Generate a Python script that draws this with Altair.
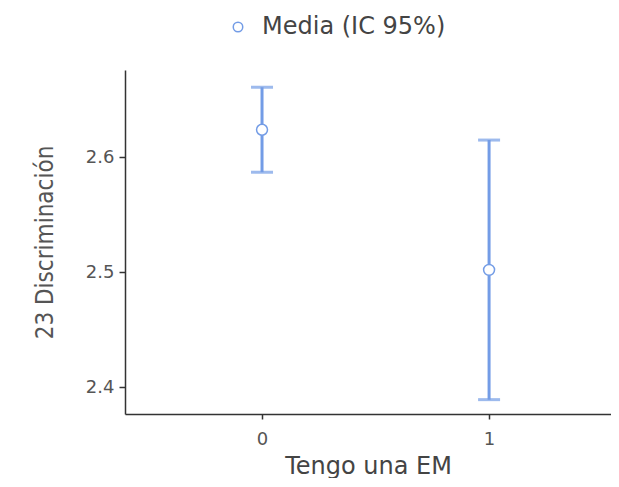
import altair as alt
import pandas as pd

groups = [0, 1]
means = [2.624, 2.502]
lowers = [2.587, 2.389]
uppers = [2.661, 2.615]
series = ["Media (IC 95%)", "Media (IC 95%)"]

df = pd.DataFrame({"g": groups, "m": means, "lo": lowers, "hi": uppers, "s": series})

blue = "#739ce6"
font = "DejaVu Sans"
narrow = "'DejaVu Sans Condensed', 'DejaVu Sans', sans-serif"

x = alt.X("g:Q", title="Tengo una EM",
          scale=alt.Scale(domain=[-0.6035, 1.537], nice=False, zero=False),
          axis=alt.Axis(values=[0, 1], format="d", grid=False, domainColor="#333",
                        domainWidth=1.5, tickColor="#333", tickWidth=1.5, tickSize=5,
                        labelFontSize=18, labelColor="#555", labelFont=font,
                        labelPadding=11, titleFontSize=24, titleColor="#444",
                        titleFont=font, titleFontWeight="normal", titlePadding=6))
ysc = alt.Scale(domain=[2.3765, 2.676], nice=False, zero=False)

rules = alt.Chart(df).mark_rule(color=blue, strokeWidth=3).encode(
    x=x,
    y=alt.Y("lo:Q", scale=ysc, title="23 Discriminación",
            axis=alt.Axis(values=[2.4, 2.5, 2.6], format=".1f", grid=False,
                          domainColor="#333", domainWidth=1.5, tickColor="#333",
                          tickWidth=1.5, tickSize=6, labelFontSize=18, labelColor="#555",
                          labelFont=font, labelPadding=5,
                          titleFontSize=24, titleColor="#555",
                          titleFont=narrow, titleFontWeight="normal",
                          titlePadding=28)),
    y2="hi:Q",
)
caps_lo = alt.Chart(df).mark_tick(color=blue, thickness=3, size=22, orient="horizontal").encode(
    x="g:Q", y=alt.Y("lo:Q", scale=ysc))
caps_hi = alt.Chart(df).mark_tick(color=blue, thickness=3, size=22, orient="horizontal").encode(
    x="g:Q", y=alt.Y("hi:Q", scale=ysc))
pts = alt.Chart(df).mark_point(filled=False, fill="white", fillOpacity=1, strokeWidth=1.5,
                               size=120, shape="circle", opacity=1).encode(
    x="g:Q", y=alt.Y("m:Q", scale=ysc),
    color=alt.Color("s:N", scale=alt.Scale(range=[blue]),
                    legend=alt.Legend(orient="none", legendX=101, legendY=-55, title=None,
                                      labelFontSize=24, labelColor="#444", labelLimit=500,
                                      labelFont=font, symbolType="circle",
                                      symbolSize=90, symbolStrokeWidth=1.5,
                                      symbolFillColor="white", labelOffset=12)),
)

chart = (rules + caps_lo + caps_hi + pts).properties(
    width=486, height=344,
    autosize=alt.AutoSizeParams(type="none"),
    padding={"left": 117, "top": 62, "right": 0, "bottom": 64},
).configure_view(stroke=None)

chart.save("out.html", embed_options={"renderer": "svg", "actions": False})
